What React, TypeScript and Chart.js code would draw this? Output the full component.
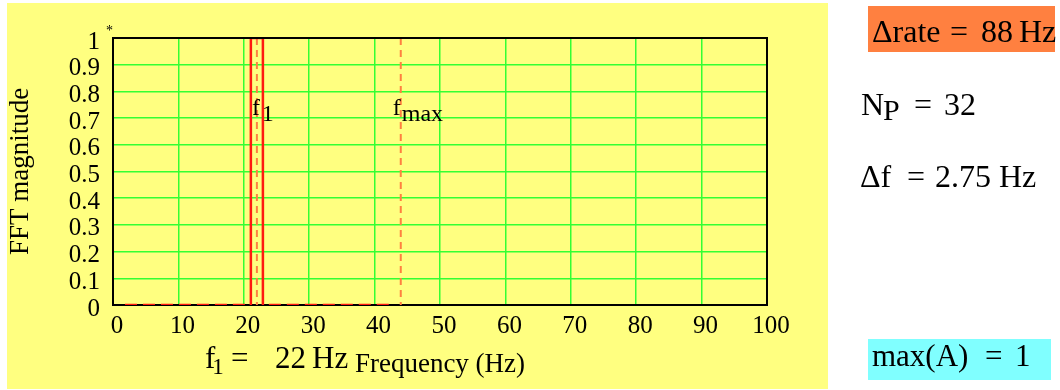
import React, { useEffect, useRef } from "react";
import { Chart, registerables } from "chart.js";

Chart.register(...registerables);

// ---- data ----
const binFreqs = [2.75, 5.5, 8.25, 11, 13.75, 16.5, 19.25, 22, 24.75, 27.5, 30.25, 33, 35.75, 38.5, 41.25];
const binMagnitudes = [0, 0, 0, 0, 0, 0, 0, 1, 0, 0, 0, 0, 0, 0, 0];
const barWidthHz = 1.84;
const f1Hz = 22;
const fMaxHz = 44;
const xTickValues = [0, 10, 20, 30, 40, 50, 60, 70, 80, 90, 100];
const yTickValues = [0, 0.1, 0.2, 0.3, 0.4, 0.5, 0.6, 0.7, 0.8, 0.9, 1];
const yTickLabels = ["0", "0.1", "0.2", "0.3", "0.4", "0.5", "0.6", "0.7", "0.8", "0.9", "1"];
const markerLabelLevel = 0.712;

const FONT = "'Liberation Serif', 'Times New Roman', serif";

function buildOutline() {
  const pts: { x: number; y: number | null }[] = [];
  binFreqs.forEach((c, i) => {
    const v = binMagnitudes[i];
    const a = c - barWidthHz / 2;
    const b = c + barWidthHz / 2;
    pts.push({ x: a, y: 0 }, { x: a, y: v }, { x: b, y: v }, { x: b, y: 0 }, { x: b, y: null });
  });
  return pts;
}

function drawSub(ctx: CanvasRenderingContext2D, main: string, sub: string, x: number, y: number, size: number, subSize: number, drop: number, gap: number) {
  ctx.font = `${size}px ${FONT}`;
  ctx.fillText(main, x, y);
  const w = ctx.measureText(main).width;
  ctx.font = `${subSize}px ${FONT}`;
  ctx.fillText(sub, x + w + gap, y + drop);
}

const decorPlugin = {
  id: "decor",
  beforeDraw(chart: any) {
    const ctx = chart.ctx as CanvasRenderingContext2D;
    ctx.save();
    ctx.fillStyle = "#ffffff";
    ctx.fillRect(0, 0, chart.width, chart.height);
    ctx.fillStyle = "#ffff80";
    ctx.fillRect(7, 3, 821, 386);
    // info boxes
    ctx.fillStyle = "#ff8040";
    ctx.fillRect(868, 6, 187, 46);
    ctx.fillStyle = "#80ffff";
    ctx.fillRect(868, 339, 183, 41);
    ctx.restore();
  },
  beforeDatasetsDraw(chart: any) {
    const ctx = chart.ctx as CanvasRenderingContext2D;
    const { left, top, right, bottom } = chart.chartArea;
    ctx.save();
    ctx.strokeStyle = "#000";
    ctx.lineWidth = 2;
    ctx.strokeRect(left, top, right - left, bottom - top);
    ctx.restore();
  },
  afterDatasetsDraw(chart: any) {
    const ctx = chart.ctx as CanvasRenderingContext2D;
    const { left, top, right } = chart.chartArea;
    ctx.save();
    ctx.strokeStyle = "#000";
    ctx.lineWidth = 2;
    ctx.beginPath();
    ctx.moveTo(left - 1, top);
    ctx.lineTo(right + 1, top);
    ctx.stroke();
    ctx.restore();
  },
  afterDraw(chart: any) {
    const ctx = chart.ctx as CanvasRenderingContext2D;
    const xs = chart.scales.x;
    const ys = chart.scales.y;
    ctx.save();
    ctx.fillStyle = "#000";
    ctx.textBaseline = "alphabetic";
    ctx.textAlign = "left";

    // star above y axis
    ctx.font = `14px ${FONT}`;
    ctx.fillText("*", 106, 35);

    // marker labels
    const ly = ys.getPixelForValue(markerLabelLevel);
    drawSub(ctx, "f", "1", xs.getPixelForValue(f1Hz) - 5, ly, 24, 24, 6, 2);
    drawSub(ctx, "f", "max", xs.getPixelForValue(fMaxHz) - 8, ly, 24, 24, 6, 1);

    // bottom: f1 = 22 Hz
    drawSub(ctx, "f", "1", 205, 368, 31, 23, 6, -3);
    ctx.font = `31px ${FONT}`;
    ctx.fillText("=", 231, 368);
    ctx.fillText("22", 275, 368);
    ctx.fillText("Hz", 312, 368);

    // right info
    ctx.font = `32px ${FONT}`;
    ctx.fillText("\u0394rate", 872, 42);
    ctx.fillText("=", 950, 42);
    ctx.fillText("88", 981, 42);
    ctx.fillText("Hz", 1019, 42);

    drawSub(ctx, "N", "P", 861, 115, 32, 30, 5, -1);
    ctx.font = `32px ${FONT}`;
    ctx.fillText("=", 914, 115);
    ctx.fillText("32", 944, 115);

    ctx.fillText("\u0394f", 860, 187);
    ctx.fillText("=", 907, 187);
    ctx.fillText("2.75", 935, 187);
    ctx.fillText("Hz", 999, 187);

    ctx.font = `31px ${FONT}`;
    ctx.fillText("max(A)", 872, 366);
    ctx.fillText("=", 985, 366);
    ctx.fillText("1", 1015, 366);
    ctx.restore();
  },
};

export default function App() {
  const ref = useRef<HTMLCanvasElement>(null);
  useEffect(() => {
    const canvas = ref.current!;
    const chart = new Chart(canvas, {
      type: "line",
      data: {
        datasets: [
          {
            data: buildOutline() as any,
            borderColor: "#ff1a10",
            borderWidth: 2.5,
            pointRadius: 0,
            spanGaps: false,
            fill: false,
          },
          {
            data: [{ x: f1Hz, y: 1 }, { x: f1Hz, y: 0 }] as any,
            borderColor: "#ff8040",
            borderWidth: 2,
            borderDash: [7, 5],
            pointRadius: 0,
            fill: false,
          },
          {
            data: [{ x: fMaxHz, y: 1 }, { x: fMaxHz, y: 0 }] as any,
            borderColor: "#ff8040",
            borderWidth: 2,
            borderDash: [7, 5],
            pointRadius: 0,
            fill: false,
          },
        ],
      },
      options: {
        animation: false,
        responsive: false,
        maintainAspectRatio: false,
        layout: { padding: { left: 0, top: 38, right: 293, bottom: 0 } },
        plugins: { legend: { display: false }, tooltip: { enabled: false } },
        elements: { line: { tension: 0 } },
        scales: {
          x: {
            type: "linear",
            min: 0,
            max: 100,
            afterBuildTicks: (s: any) => {
              s.ticks = xTickValues.map((v) => ({ value: v }));
            },
            afterFit: (s: any) => {
              s.height = 85;
            },
            ticks: {
              color: "#000",
              font: { family: FONT, size: 25 },
              padding: 6,
              labelOffset: 4,
              maxRotation: 0,
              autoSkip: false,
              callback: (v: any) => String(v),
            },
            grid: { color: "#33ff33", lineWidth: 1.5, drawTicks: false },
            border: { display: false },
            title: {
              display: true,
              text: "Frequency (Hz)",
              color: "#000",
              font: { family: FONT, size: 27 },
              padding: { top: 0, bottom: 9 },
            },
          },
          y: {
            type: "linear",
            min: 0,
            max: 1,
            afterBuildTicks: (s: any) => {
              s.ticks = yTickValues.map((v) => ({ value: v }));
            },
            afterFit: (s: any) => {
              s.width = 113;
            },
            ticks: {
              color: "#000",
              font: { family: FONT, size: 25 },
              padding: 13,
              labelOffset: 4,
              autoSkip: false,
              callback: (_v: any, i: number) => yTickLabels[i],
            },
            grid: { color: "#33ff33", lineWidth: 1.5, drawTicks: false },
            border: { display: false },
            title: {
              display: true,
              text: "FFT magnitude",
              color: "#000",
              font: { family: FONT, size: 27 },
              padding: { top: 5, bottom: 0 },
            },
          },
        },
      },
      plugins: [decorPlugin],
    });
    return () => chart.destroy();
  }, []);
  return (
    <div style={{ position: "fixed", left: 0, top: 0, width: 1060, height: 390, background: "#fff" }}>
      <canvas ref={ref} width={1060} height={390} style={{ display: "block", width: 1060, height: 390 }} />
    </div>
  );
}
